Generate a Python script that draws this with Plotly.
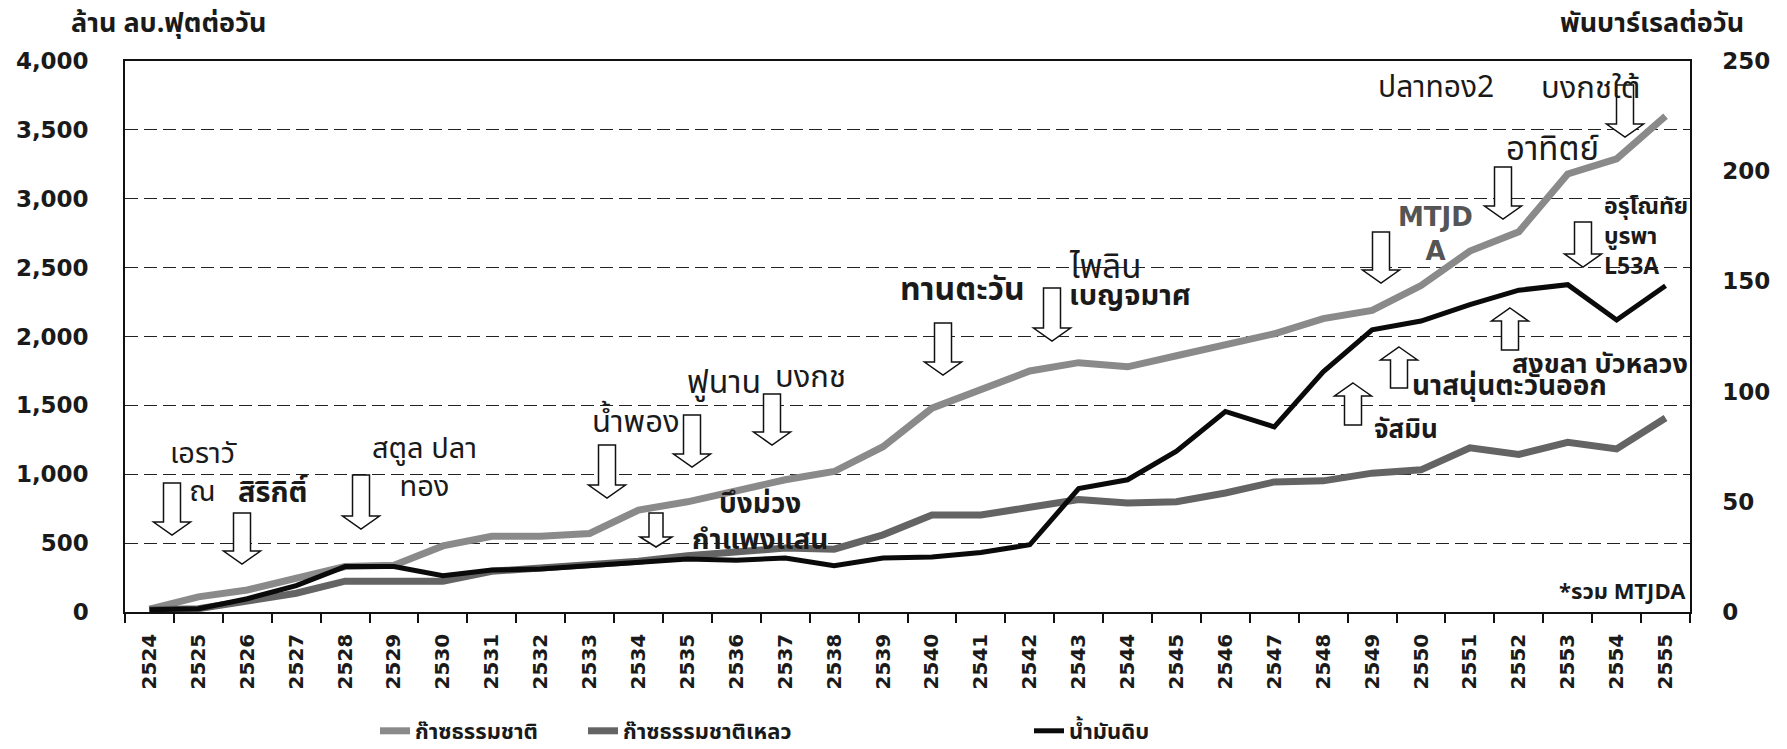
import plotly.graph_objects as go

# ---------------- data ----------------
years = [str(y) for y in range(2524, 2556)]

# ก๊าซธรรมชาติ (ล้าน ลบ.ฟุตต่อวัน) - left axis
natural_gas = [20, 110, 160, 240, 330, 340, 480, 550, 550, 570, 740, 800,
               880, 960, 1020, 1200, 1480, 1610, 1750, 1810, 1780, 1860,
               1940, 2020, 2130, 2190, 2370, 2620, 2760, 3180, 3290, 3600]

# ก๊าซธรรมชาติเหลว (พันบาร์เรลต่อวัน) - right axis
condensate = [1, 1.5, 5, 8.5, 14, 14, 14, 18.5, 20, 22, 23, 25.5,
              27.5, 29, 28.5, 35, 44, 44, 47.5, 51, 49.5, 50,
              54, 59, 59.5, 63, 64.5, 74.5, 71.5, 77, 74, 88]

# น้ำมันดิบ (พันบาร์เรลต่อวัน) - right axis
crude_oil = [1, 1.5, 6, 12, 20.6, 20.6, 16.5, 19, 19.5, 21, 22, 24,
             23.5, 24.5, 21, 24.5, 25, 27, 30.5, 56, 60, 73,
             91, 84, 109, 128, 132, 139.5, 146, 148.5, 132.5, 148]

left_ticks = [0, 500, 1000, 1500, 2000, 2500, 3000, 3500, 4000]
right_ticks = [0, 50, 100, 150, 200, 250]

series_names = ["ก๊าซธรรมชาติ", "ก๊าซธรรมชาติเหลว", "น้ำมันดิบ"]

# ---------------- layout geometry (page pixels) ----------------
W, H = 1787, 749
PL, PR, PT, PB = 125, 1690, 61, 612   # plot area on the page


def fx(x):
    return (x - PL) / (PR - PL)


def fy(y):
    return (PB - y) / (PB - PT)


THAI = "Tahoma, 'Noto Sans Thai', 'Noto Sans Thai UI', 'Noto Sans', sans-serif"
NUM = "'DejaVu Sans', Verdana, sans-serif"

fig = go.Figure()
fig.add_trace(go.Scatter(x=years, y=natural_gas, name=series_names[0], mode="lines",
                         line=dict(color="#8a8a8a", width=7), yaxis="y", legend="legend"))
fig.add_trace(go.Scatter(x=years, y=condensate, name=series_names[1], mode="lines",
                         line=dict(color="#646464", width=7), yaxis="y2", legend="legend2"))
fig.add_trace(go.Scatter(x=years, y=crude_oil, name=series_names[2], mode="lines",
                         line=dict(color="#0a0a0a", width=5), yaxis="y2", legend="legend3"))


# ---------------- arrows ----------------
def down_arrow(cx, top, tip, sw=8.5, hw=18.5, hl=13):
    return [(cx - sw, top), (cx + sw, top), (cx + sw, tip - hl), (cx + hw, tip - hl),
            (cx, tip), (cx - hw, tip - hl), (cx - sw, tip - hl)]


def up_arrow(cx, tip, bottom, sw=8.5, hw=18.5, hl=13):
    return [(cx, tip), (cx + hw, tip + hl), (cx + sw, tip + hl), (cx + sw, bottom),
            (cx - sw, bottom), (cx - sw, tip + hl), (cx - hw, tip + hl)]


def path_of(pts):
    return "M " + " L ".join(f"{fx(x):.5f},{fy(y):.5f}" for x, y in pts) + " Z"


arrows = [
    down_arrow(172, 483, 535),
    down_arrow(242, 513, 564),
    down_arrow(361, 475, 529),
    down_arrow(607, 445, 498),
    down_arrow(692, 415, 467),
    down_arrow(772, 394, 445),
    down_arrow(656, 513, 547, sw=7, hw=16, hl=10),
    down_arrow(943, 323, 375),
    down_arrow(1052, 288, 341),
    down_arrow(1381, 232, 283),
    down_arrow(1503, 167, 219),
    down_arrow(1625, 85, 137),
    down_arrow(1583, 222, 267),
    up_arrow(1353, 383, 425),
    up_arrow(1399, 347, 388),
    up_arrow(1510, 308, 350),
]
shapes = [dict(type="path", xref="paper", yref="paper", path=path_of(a),
               line=dict(color="#111111", width=1.5), fillcolor="white", layer="above")
          for a in arrows]


# ---------------- labels ----------------
def lab(text, x, y, size=31, bold=False, color="#1a1a1a", xanchor="center",
        family=THAI, align="center"):
    return dict(text=text, x=fx(x), y=fy(y), xref="paper", yref="paper",
                xanchor=xanchor, yanchor="middle", showarrow=False, align=align,
                font=dict(family=family, size=size, color=color,
                          weight="bold" if bold else "normal"))


annotations = [
    lab("เอราวั<br>ณ", 203, 473, size=29),
    lab("สิริกิติ์", 273, 493, size=29, bold=True),
    lab("สตูล ปลา<br>ทอง", 424, 468, size=29),
    lab("น้ำพอง", 636, 422),
    lab("ฟูนาน", 724, 383, size=32),
    lab("บงกช", 810, 377),
    lab("บึงม่วง<br>กำแพงแสน", 760, 522, size=28, bold=True),
    lab("ทานตะวัน", 962, 290, size=32, bold=True),
    lab("ไพลิน", 1067, 268, size=33, xanchor="left"),
    lab("เบญจมาศ", 1067, 296, size=29, bold=True, xanchor="left"),
    lab("MTJD<br>A", 1435, 234, size=26, bold=True, color="#555555", family=NUM),
    lab("ปลาทอง2", 1436, 88, size=30),
    lab("บงกชใต้", 1590, 88, size=31),
    lab("อาทิตย์", 1552, 150, size=33),
    lab("อรุโณทัย<br>บูรพา<br>L53A", 1602, 237, size=23, bold=True,
        xanchor="left", align="left"),
    lab("สงขลา บัวหลวง", 1510, 364, size=27, bold=True, xanchor="left"),
    lab("นาสนุ่นตะวันออก", 1410, 386, size=28, bold=True, xanchor="left"),
    lab("จัสมิน", 1372, 430, size=26, bold=True, xanchor="left"),
    lab("*รวม MTJDA", 1688, 592, size=22, bold=True, xanchor="right"),
    lab("ล้าน ลบ.ฟุตต่อวัน", 168, 24, size=27, bold=True),
    lab("พันบาร์เรลต่อวัน", 1652, 24, size=27, bold=True),
]

legend_font = dict(family=THAI, size=22, color="#1a1a1a", weight="bold")


def leg(xpix):
    return dict(x=fx(xpix), y=fy(731), xanchor="left", yanchor="middle",
                orientation="h", font=legend_font, bgcolor="rgba(0,0,0,0)",
                itemwidth=30)


fig.update_layout(
    width=W, height=H,
    margin=dict(l=PL, r=W - PR, t=PT, b=H - PB, autoexpand=False),
    paper_bgcolor="white", plot_bgcolor="white",
    showlegend=True,
    legend=leg(375), legend2=leg(583), legend3=leg(1029),
    shapes=shapes, annotations=annotations,
    xaxis=dict(type="category", categoryorder="array", categoryarray=years,
               range=[-0.5, len(years) - 0.5],
               tickson="boundaries", ticks="outside", ticklen=9, tickcolor="#111",
               tickwidth=1.5, showline=True, linecolor="#111", linewidth=1.5, mirror=True,
               showgrid=False, tickangle=-90,
               tickfont=dict(family=NUM, size=20, color="#1a1a1a", weight="bold"),
               ticklabelstandoff=12),
    yaxis=dict(range=[0, 4000], tickvals=left_ticks, tickformat=",d",
               showgrid=True, gridcolor="#222", gridwidth=1, griddash="13px,6px",
               zeroline=False, showline=True, linecolor="#111", linewidth=1.5,
               ticks="", tickfont=dict(family=NUM, size=23, color="#1a1a1a", weight="bold"),
               ticklabelstandoff=30),
    yaxis2=dict(range=[0, 250], tickvals=right_ticks, overlaying="y", side="right",
                showgrid=False, zeroline=False, showline=True, linecolor="#111", linewidth=1.5,
                ticks="", tickfont=dict(family=NUM, size=23, color="#1a1a1a", weight="bold"),
                ticklabelstandoff=26),
)

# remove the default 8px page margin so the figure fills the window exactly
fig.write_html("out.html",
               config={"displayModeBar": False},
               post_script="document.body.style.margin='0';document.body.style.overflow='hidden';")
